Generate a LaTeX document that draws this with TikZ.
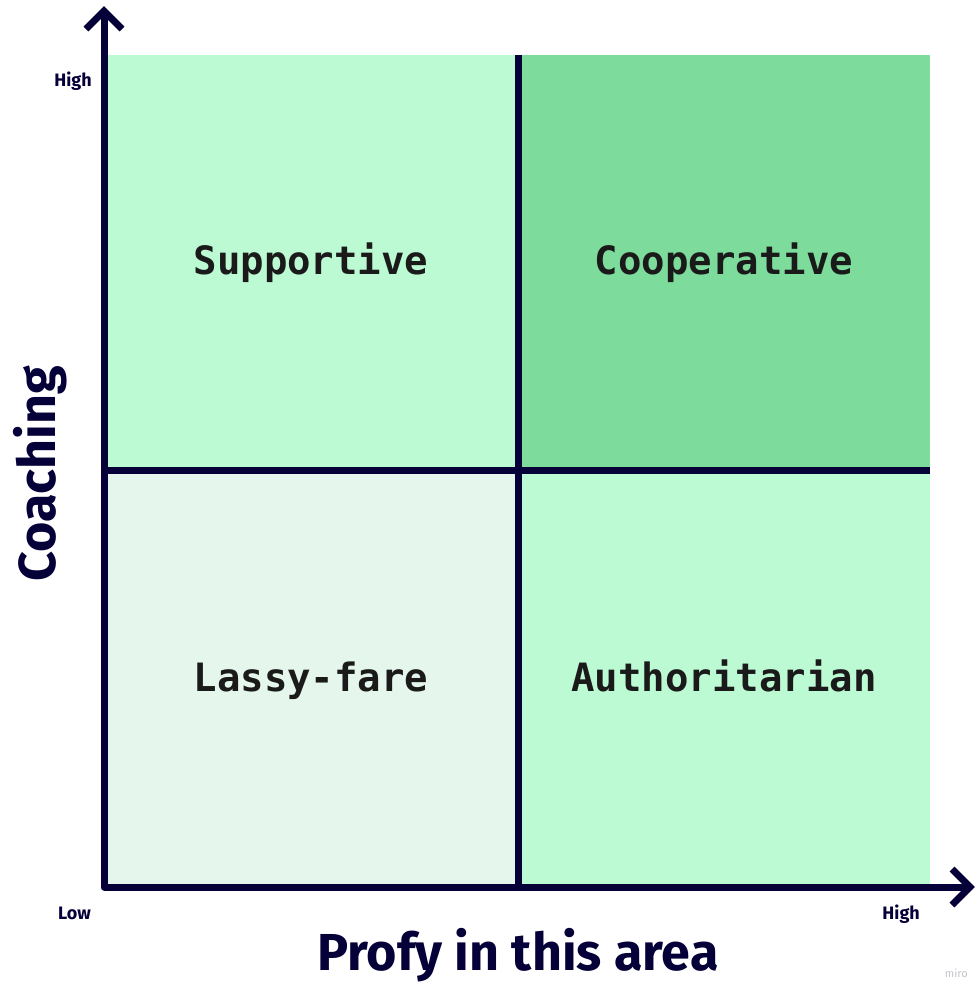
\documentclass[tikz,border=0pt]{standalone}
\usepackage{fontspec}
\setmainfont{Fira Sans}
\newfontfamily\quadfont{DejaVu Sans Mono}[BoldFont={DejaVu Sans Mono Bold}]
\definecolor{ink}{HTML}{050038}
\definecolor{lightgreen}{HTML}{BCFAD3}
\definecolor{deepgreen}{HTML}{7DDC9B}
\definecolor{palegreen}{HTML}{E5F6EC}
\definecolor{labelink}{HTML}{1A1A1A}
\definecolor{markgray}{HTML}{C4C4CC}
\begin{document}
\begin{tikzpicture}[x=1pt,y=-1pt,
  axis/.style={draw=ink,line width=7pt,line join=round},
  tip/.style={draw=ink,line width=7pt,line join=miter,line cap=butt},
  divider/.style={draw=ink,line width=7pt},
  quadlabel/.style={font=\quadfont\bfseries\fontsize{39}{39}\selectfont,text=labelink,inner sep=0pt,anchor=base},
  axistitle/.style={font=\bfseries\fontsize{52}{52}\selectfont,text=ink,inner sep=0pt,anchor=base},
  ticklabel/.style={font=\bfseries\fontsize{18}{18}\selectfont,text=ink,inner sep=0pt,anchor=base east},
  watermark/.style={font=\fontsize{11}{11}\selectfont,text=markgray,inner sep=0pt,anchor=base east}]
\useasboundingbox (0,0) rectangle (976,983);
\fill[white] (0,0) rectangle (976,983);

% quadrant fills
\fill[lightgreen] (104,55) rectangle (518,470);
\fill[deepgreen]  (518,55) rectangle (930,470);
\fill[palegreen]  (104,470) rectangle (518,887);
\fill[lightgreen] (518,470) rectangle (930,887);

% grid dividers
\coordinate (vtop) at (518,55);
\coordinate (vbot) at (518,887);
\coordinate (hleft) at (104,470);
\coordinate (hright) at (930,470);
\draw[divider] (vtop) -- (vbot);
\draw[divider] (hleft) -- (hright);

% axes with open arrow heads
\coordinate (ytip) at (104,11);
\coordinate (origin) at (104,887);
\coordinate (xtip) at (970,887);
\draw[axis] (ytip) -- (origin) -- (xtip);
\draw[tip] (86,29) -- (ytip) -- (122,29);
\draw[tip] (952,869) -- (xtip) -- (952,905);

% quadrant names
\node[quadlabel] (supportive)  at (311,274) {Supportive};
\node[quadlabel] (cooperative) at (724,274) {Cooperative};
\node[quadlabel] (lassy)       at (311,691) {Lassy-fare};
\node[quadlabel] (authority)   at (724,691) {Authoritarian};

% axis titles and ends
\node[axistitle] (xtitle) at (518,970) {Profy in this area};
\node[axistitle,rotate=90] (ytitle) at (55,474) {Coaching};
\node[ticklabel] (yhigh) at (92,86) {High};
\node[ticklabel] (xlow) at (91,919) {Low};
\node[ticklabel] (xhigh) at (920,919) {High};
\node[watermark] (brand) at (968,977) {miro};
\end{tikzpicture}
\end{document}
